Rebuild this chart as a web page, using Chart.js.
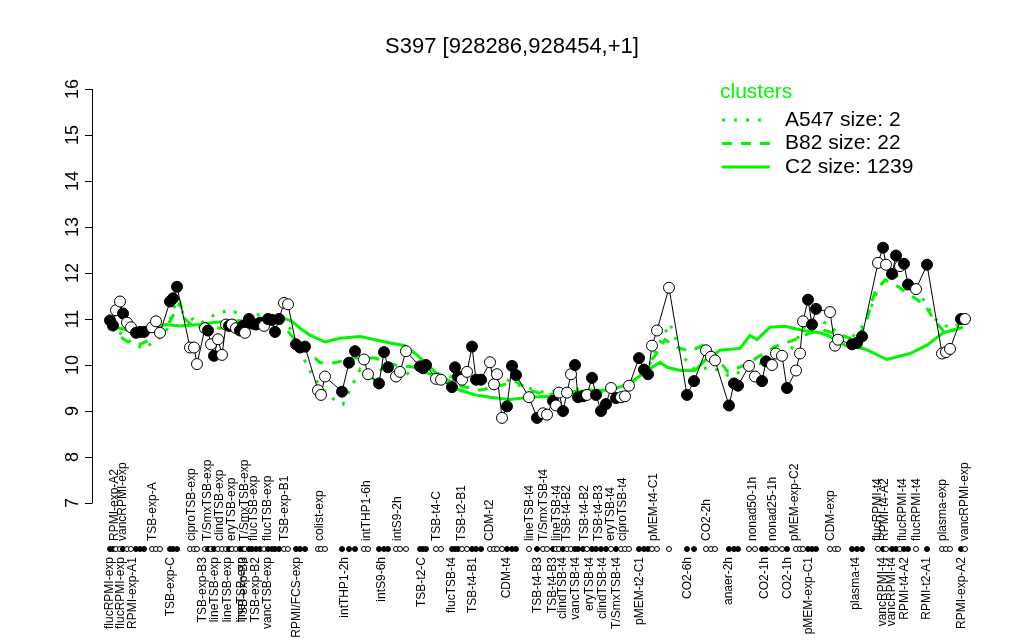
<!DOCTYPE html>
<html>
<head>
<meta charset="utf-8">
<script src="https://cdn.jsdelivr.net/npm/chart.js@4"></script>
<style>
  html, body { margin: 0; padding: 0; background: #fff; }
  canvas { display: block; }
</style>
</head>
<body>
<canvas id="grafico" width="1024" height="640"></canvas>
<script>
// sample positions along the x axis (arbitrary units) and the values
const samplePos = [
  10, 13, 16, 20, 23, 27, 31, 36, 40, 44, 52, 56, 60, 70, 73, 77, 90, 94, 97,
  105, 108, 111, 114, 118, 122, 126, 129, 132, 136, 140, 143, 145, 149, 152, 156, 160, 164, 168, 172, 175, 179, 184, 188,
  196, 200, 205, 218, 221, 225, 242, 249, 255, 264, 268, 279, 284, 288, 296, 300, 306,
  320, 323, 326, 336, 341, 352, 355, 358, 362, 367, 372, 376, 381, 390, 394, 397, 402, 407, 412, 416,
  429, 437, 443, 447, 453, 456, 459, 463, 467, 471, 475, 478, 483, 487, 492, 496, 501, 506, 511, 516, 521, 525, 529,
  539, 544, 548, 552, 557, 569, 587, 594, 606, 611, 615, 629, 634, 638, 649, 655, 662, 666, 672, 676, 682, 687,
  696, 700, 703, 708, 712, 716, 730, 735, 738, 752, 757, 762,
  778, 783, 786, 792, 796, 800, 804, 808, 816, 827, 842, 846, 850, 861, 865
];
const sampleValue = [
  10.97, 10.86, 11.19, 11.38, 11.12, 10.92, 10.82, 10.70, 10.72, 10.72, 10.82, 10.95, 10.70, 11.38, 11.45, 11.70, 10.38, 10.38, 10.02,
  10.80, 10.75, 10.45, 10.20, 10.56, 10.22, 10.88, 10.85, 10.88, 10.80, 10.75, 10.85, 10.70, 11.00, 10.90, 10.88, 10.92, 10.85, 11.00, 10.98, 10.72, 11.00, 11.35, 11.32,
  10.45, 10.38, 10.40, 9.45, 9.35, 9.75, 9.42, 10.05, 10.30, 10.12, 9.80, 9.60, 10.28, 9.95, 9.75, 9.85, 10.30,
  9.97, 9.93, 10.00, 9.70, 9.68, 9.52, 9.95, 9.75, 9.68, 9.85, 10.40, 9.68, 9.68, 10.06, 9.58, 9.80, 8.85, 9.10, 9.98, 9.78,
  9.30, 8.85, 8.95, 8.92, 9.22, 9.12, 9.40, 9.00, 9.40, 9.80, 10.00, 9.30, 9.32, 9.35, 9.72, 9.35, 9.00, 9.15, 9.50, 9.28, 9.30, 9.32, 9.55,
  10.15, 9.90, 9.80, 10.42, 10.75, 11.68, 9.35, 9.65, 10.32, 10.18, 10.10, 9.12, 9.60, 9.55, 9.98, 9.75, 9.65, 10.08, 10.00, 10.25, 10.20, 9.50,
  9.88, 10.25, 10.95, 11.42, 10.88, 11.22, 11.15, 10.42, 10.55, 10.45, 10.48, 10.62,
  12.22, 12.55, 12.18, 11.98, 12.38, 12.15, 12.20, 11.75, 11.65, 12.18, 10.25, 10.28, 10.35, 11.00, 11.00
];
// 1 = filled marker, 0 = open marker
const sampleFilled = [
  1, 1, 0, 0, 1, 0, 0, 1, 1, 1, 0, 0, 0, 1, 1, 1, 0, 0, 0,
  0, 1, 0, 1, 0, 0, 0, 1, 0, 0, 1, 1, 0, 1, 1, 1, 1, 0, 1, 1, 1, 1, 0, 0,
  1, 1, 1, 0, 0, 0, 1, 1, 1, 0, 0, 1, 1, 1, 0, 0, 0,
  1, 1, 1, 0, 0, 1, 1, 1, 0, 0, 1, 1, 1, 0, 0, 0, 0, 1, 1, 1,
  0, 1, 0, 0, 1, 0, 0, 1, 0, 0, 1, 1, 1, 0, 1, 1, 1, 1, 0, 1, 0, 0, 0,
  1, 1, 1, 0, 0, 0, 1, 1, 0, 0, 0, 1, 1, 1, 0, 0, 1, 1, 0, 0, 0, 1,
  0, 0, 0, 1, 1, 1, 0, 0, 0, 1, 1, 1,
  0, 1, 0, 1, 1, 0, 1, 1, 0, 1, 0, 0, 0, 1, 0
];

// cluster lines
const c2Pos = [8, 20, 35, 50, 65, 80, 100, 115, 140, 160, 180, 192, 200, 210, 225, 240, 260, 275, 290, 305, 318, 330, 345, 360, 375, 390, 410, 430, 450, 470, 490, 510, 530, 547, 560, 567, 580, 595, 605, 620, 640, 650, 657, 670, 685, 703, 720, 730, 745, 765, 787, 810, 827, 843, 863];
const c2Value = [10.85, 10.80, 10.72, 10.78, 10.88, 10.85, 10.88, 10.93, 10.96, 10.98, 11.05, 10.95, 10.80, 10.65, 10.50, 10.58, 10.62, 10.55, 10.48, 10.42, 10.20, 9.95, 9.65, 9.45, 9.35, 9.30, 9.25, 9.30, 9.32, 9.40, 9.45, 9.45, 9.60, 9.88, 10.06, 9.95, 9.88, 9.88, 10.10, 10.32, 10.36, 10.64, 10.55, 10.82, 10.84, 10.75, 10.70, 10.62, 10.43, 10.35, 10.12, 10.25, 10.43, 10.70, 10.82];

const b82Pos = [8, 18, 28, 40, 50, 60, 70, 80, 85, 95, 105, 120, 140, 160, 180, 193, 205, 220, 235, 255, 275, 295, 315, 330, 345, 360, 380, 400, 415, 430, 445, 465, 485, 505, 525, 540, 555, 565, 575, 590, 605, 615, 628, 645, 660, 675, 695, 710, 725, 740, 755, 765, 775, 785, 795, 805, 815, 825, 835, 845, 860];
const b82Value = [10.90, 10.65, 10.50, 10.45, 10.55, 10.70, 10.95, 11.35, 11.00, 10.80, 10.85, 10.80, 10.90, 10.92, 10.95, 10.60, 10.35, 10.05, 10.05, 10.15, 10.15, 10.00, 9.95, 9.80, 9.70, 9.55, 9.45, 9.55, 9.65, 9.45, 9.35, 9.40, 9.45, 9.45, 9.55, 9.80, 10.20, 10.55, 10.40, 10.30, 10.45, 10.20, 9.85, 10.00, 10.20, 10.40, 10.55, 10.70, 10.75, 10.65, 10.55, 10.85, 11.60, 11.85, 11.75, 11.60, 11.45, 11.30, 10.95, 10.70, 10.80];

const a547Pos = [8, 20, 33, 45, 55, 65, 75, 85, 100, 115, 130, 145, 160, 175, 190, 200, 213, 230, 243, 260, 270, 285, 300, 320, 340, 360, 380, 400, 420, 445, 470, 500, 525, 545, 560, 570, 582, 595, 612, 630, 650, 670, 690, 705, 720, 735, 750, 765, 778, 790, 805, 820, 835, 850, 865];
const a547Value = [10.80, 10.70, 10.45, 10.35, 10.55, 10.65, 11.30, 11.10, 10.90, 11.10, 11.20, 11.05, 11.10, 11.05, 10.80, 10.30, 9.75, 9.30, 9.15, 9.90, 9.60, 10.00, 9.70, 10.00, 9.80, 9.70, 9.60, 9.75, 9.55, 9.40, 9.50, 9.40, 9.55, 9.80, 10.50, 10.90, 10.20, 9.90, 9.95, 9.75, 9.95, 10.10, 10.30, 10.85, 11.00, 10.75, 10.55, 10.90, 11.65, 12.05, 11.80, 11.55, 11.00, 10.80, 10.95];

// sample labels printed under the plot
const upperTickPos = [15, 23, 53, 92, 108, 120, 132, 145, 154, 168, 185, 220, 267, 298, 337, 362, 390, 430, 444, 457, 467, 485, 499, 511, 523, 554, 607, 653, 673, 695, 731, 778, 785, 803, 817, 843, 865];
const upperTickText = ['RPMI-exp-A2', 'vancRPMI-exp', 'TSB-exp-A', 'ciproTSB-exp', 'T/SmxTSB-exp', 'clindTSB-exp', 'eryTSB-exp', 'T/SmxTSB-exp', 'flucTSB-exp', 'flucTSB-exp', 'TSB-exp-B1',
  'colist-exp', 'intTHP1-6h', 'intS9-2h', 'TSB-t4-C', 'TSB-t2-B1', 'CDM-t2', 'lineTSB-t4', 'T/SmxTSB-t4', 'lineTSB-t4', 'TSB-t4-B2', 'TSB-t4-B2', 'TSB-t4-B3', 'eryTSB-t4', 'ciproTSB-t4',
  'pMEM-t4-C1', 'CO2-2h', 'nonad50-1h', 'nonad25-1h', 'pMEM-exp-C2', 'CDM-exp', 'flucRPMI-t4', 'RPMI-t4-A2', 'flucRPMI-t4', 'flucRPMI-t4', 'plasma-exp', 'vancRPMI-exp'];
const lowerTickPos = [10, 21, 33, 71, 103, 115, 128, 142, 144, 156, 168, 197, 245, 282, 322, 352, 373, 407, 438, 453, 463, 476, 490, 503, 517, 540, 588, 629, 665, 688, 709, 756, 783, 792, 805, 827, 862];
const lowerTickText = ['flucRPMI-exp', 'flucRPMI-exp', 'RPMI-exp-A1', 'TSB-exp-C', 'TSB-exp-B3', 'lineTSB-exp', 'lineTSB-exp', 'lineTSB-exp', 'TSB-exp-B3', 'TSB-exp-B2', 'vancTSB-exp', 'RPMI/FCS-exp',
  'intTHP1-2h', 'intS9-6h', 'TSB-t2-C', 'flucTSB-t4', 'TSB-t4-B1', 'CDM-t4', 'TSB-t4-B3', 'TSB-t4-B3', 'clindTSB-t4', 'vancTSB-t4', 'eryTSB-t4', 'clindTSB-t4', 'T/SmxTSB-t4',
  'pMEM-t2-C1', 'CO2-6h', 'anaer-2h', 'CO2-1h', 'CO2-1h', 'pMEM-exp-C1', 'plasma-t4', 'vancRPMI-t4', 'vancRPMI-t4', 'RPMI-t4-A2', 'RPMI-t2-A1', 'RPMI-exp-A2'];

const yTicks = [7, 8, 9, 10, 11, 12, 13, 14, 15, 16];
const legendLabels = ['A547 size: 2', 'B82 size: 22', 'C2 size: 1239'];
const titulo = 'S397 [928286,928454,+1]';

const verde = '#00f500';
const fonte = '"Liberation Sans", Arial, Helvetica, sans-serif';
const nivelFaixa = 6; // level of the marker strip under the axis

const pares = (xs, ys) => xs.map((x, i) => ({ x: x, y: ys[i] }));

// axis, title, labels and legend drawn on top of the chart
const extras = {
    id: 'extras',
    afterDraw(chart) {
        const ctx = chart.ctx;
        const escX = chart.scales.x;
        const escY = chart.scales.y;
        const left = chart.chartArea.left;

        ctx.save();
        ctx.fillStyle = '#000';
        ctx.strokeStyle = '#000';
        ctx.lineWidth = 1;

        //titulo
        ctx.font = '22px ' + fonte;
        ctx.textAlign = 'center';
        ctx.textBaseline = 'middle';
        ctx.fillText(titulo, 512, 47);

        //eixo y
        const yTop = escY.getPixelForValue(yTicks[yTicks.length - 1]);
        const yBot = escY.getPixelForValue(yTicks[0]);
        ctx.beginPath();
        ctx.moveTo(left + 0.5, yTop);
        ctx.lineTo(left + 0.5, yBot);
        yTicks.forEach(v => {
            const py = Math.round(escY.getPixelForValue(v)) + 0.5;
            ctx.moveTo(left + 0.5, py);
            ctx.lineTo(left - 7, py);
        });
        ctx.stroke();
        ctx.font = '18px ' + fonte;
        yTicks.forEach(v => {
            ctx.save();
            ctx.translate(73, escY.getPixelForValue(v));
            ctx.rotate(-Math.PI / 2);
            ctx.fillText(String(v), 0, 0);
            ctx.restore();
        });

        //rotulos das amostras
        const yStrip = escY.getPixelForValue(nivelFaixa);
        ctx.font = '12px ' + fonte;
        ctx.textBaseline = 'middle';
        upperTickPos.forEach((p, i) => {
            ctx.save();
            ctx.translate(escX.getPixelForValue(p), yStrip - 8);
            ctx.rotate(-Math.PI / 2);
            ctx.textAlign = 'left';
            ctx.fillText(upperTickText[i], 0, 0);
            ctx.restore();
        });
        lowerTickPos.forEach((p, i) => {
            ctx.save();
            ctx.translate(escX.getPixelForValue(p), yStrip + 8);
            ctx.rotate(-Math.PI / 2);
            ctx.textAlign = 'right';
            ctx.fillText(lowerTickText[i], 0, 0);
            ctx.restore();
        });

        //legenda
        ctx.font = '21px ' + fonte;
        ctx.textAlign = 'left';
        ctx.fillStyle = verde;
        ctx.fillText('clusters', 720, 92);
        const dashes = [[3, 9], [10, 9], []];
        ctx.lineWidth = 3;
        legendLabels.forEach((txt, i) => {
            const ly = 120 + i * 23.5;
            ctx.strokeStyle = verde;
            ctx.setLineDash(dashes[i]);
            ctx.beginPath();
            ctx.moveTo(722, ly);
            ctx.lineTo(770, ly);
            ctx.stroke();
            ctx.fillStyle = '#000';
            ctx.fillText(txt, 785, ly);
        });
        ctx.restore();
    }
};

const elementoGrafico = document.getElementById('grafico');

const graficoCluster = new Chart(elementoGrafico, {
    type: 'scatter',
    data: {
        datasets: [{
            label: 'samples',
            data: pares(samplePos, sampleValue),
            showLine: true,
            borderColor: '#000',
            borderWidth: 1,
            pointRadius: 5.5,
            pointBorderWidth: 1,
            pointBorderColor: '#000',
            pointBackgroundColor: sampleFilled.map(f => f ? '#000' : '#fff'),
            order: 1
        }, {
            label: 'strip',
            data: samplePos.map(p => ({ x: p, y: nivelFaixa })),
            showLine: false,
            pointRadius: 2.5,
            pointBorderWidth: 1,
            pointBorderColor: '#000',
            pointBackgroundColor: sampleFilled.map(f => f ? '#000' : '#fff'),
            order: 1
        }, {
            label: 'A547',
            data: pares(a547Pos, a547Value),
            showLine: true,
            borderColor: verde,
            borderWidth: 3,
            borderDash: [3, 9],
            pointRadius: 0,
            order: 2
        }, {
            label: 'B82',
            data: pares(b82Pos, b82Value),
            showLine: true,
            borderColor: verde,
            borderWidth: 3,
            borderDash: [10, 9],
            pointRadius: 0,
            order: 2
        }, {
            label: 'C2',
            data: pares(c2Pos, c2Value),
            showLine: true,
            borderColor: verde,
            borderWidth: 3,
            pointRadius: 0,
            order: 2
        }]
    },
    options: {
        responsive: false,
        animation: false,
        devicePixelRatio: 1,
        layout: { padding: { left: 92, right: 44, top: 89, bottom: 45 } },
        scales: {
            x: { type: 'linear', min: -8, max: 880, display: false },
            y: { type: 'linear', min: 5, max: 16, display: false }
        },
        plugins: {
            legend: { display: false },
            tooltip: { enabled: false }
        },
        events: []
    },
    plugins: [extras]
});
</script>
</body>
</html>
